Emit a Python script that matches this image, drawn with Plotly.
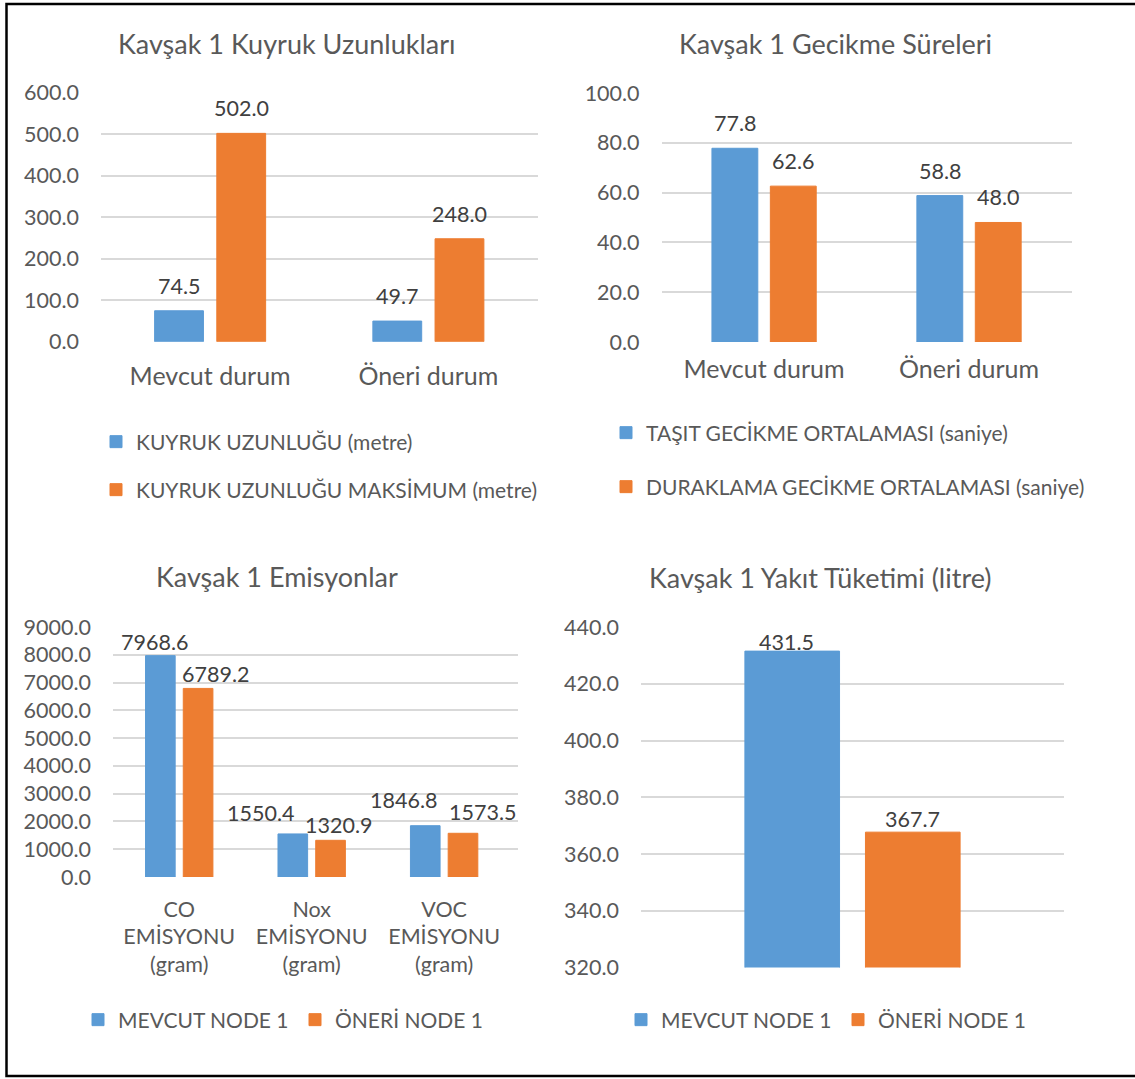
import plotly.graph_objects as go

# ---------------- data ----------------
queue_categories = ["Mevcut durum", "Öneri durum"]
queue_length = [74.5, 49.7]
queue_length_max = [502.0, 248.0]
queue_series = ["KUYRUK UZUNLUĞU (metre)", "KUYRUK UZUNLUĞU MAKSİMUM (metre)"]

delay_categories = ["Mevcut durum", "Öneri durum"]
vehicle_delay = [77.8, 58.8]
stop_delay = [62.6, 48.0]
delay_series = ["TAŞIT GECİKME ORTALAMASI (saniye)", "DURAKLAMA GECİKME ORTALAMASI (saniye)"]

emission_categories = ["CO<br>EMİSYONU<br>(gram)", "Nox<br>EMİSYONU<br>(gram)", "VOC<br>EMİSYONU<br>(gram)"]
emission_current = [7968.6, 1550.4, 1846.8]
emission_proposal = [6789.2, 1320.9, 1573.5]

fuel_categories = ["Kavşak 1"]
fuel_current = [431.5]
fuel_proposal = [367.7]

node_series = ["MEVCUT NODE 1", "ÖNERİ NODE 1"]

titles = ["Kavşak 1 Kuyruk Uzunlukları", "Kavşak 1 Gecikme Süreleri",
          "Kavşak 1 Emisyonlar", "Kavşak 1 Yakıt Tüketimi (litre)"]

# ---------------- style ----------------
W, H = 1135, 1079
BLUE = "#5B9BD5"
ORANGE = "#ED7D31"
TXT = "#595959"
VAL = "#404040"
GRID = "#D9D9D9"
FONT = "Lato, Carlito, Calibri, sans-serif"
BARGAP = 0.43
BARGROUPGAP = 0.215


def px_x(v):
    return v / W


def px_y(v):
    return 1 - v / H


fig = go.Figure()

# panel definitions: (xaxis, yaxis, x-domain px, y-domain px (top,bottom), range, dtick)
panels = [
    ("x", "y", (101, 537.5), (92.7, 341.7), [0, 600], 100),
    ("x2", "y2", (661.6, 1071.5), (93, 342), [0, 100], 20),
    ("x3", "y3", (113, 518), (627, 877), [0, 9000], 1000),
    ("x4", "y4", (641, 1064), (627, 967.5), [320, 440], 20),
]

series_sets = [
    (queue_categories, [queue_length, queue_length_max], queue_series),
    (delay_categories, [vehicle_delay, stop_delay], delay_series),
    (emission_categories, [emission_current, emission_proposal], node_series),
    (fuel_categories, [fuel_current, fuel_proposal], node_series),
]

legend_ids = [["legend", "legend2"], ["legend3", "legend4"],
              ["legend5", "legend6"], ["legend7", "legend8"]]
legend_pos = [[(116, 442), (116, 490)], [(626, 433), (626, 487)],
              [(98, 1020), (315, 1020)], [(641, 1020), (858, 1020)]]

# label offsets (pixels) per panel / series / category
label_shift = [
    [[(0, 25), (0, 25)], [(0, 25), (0, 25)]],
    [[(0, 25), (0, 25)], [(0, 25), (0, 25)]],
    [[(-6, 14), (-32, 20.5), (-22, 25.5)], [(17, 14.5), (7.5, 15), (19.5, 21.5)]],
    [[(-6, 9)], [(0, 13)]],
]
xlabel_standoff = [17, 10, 17, 10]
xlabel_size = [25, 25, 21.5, 25]

colors = [BLUE, ORANGE]
half_slot = (1 - BARGAP) / 4
slot_offset = [-half_slot, half_slot]

layout_axes = {}
for p, ((xa, ya, xd, yd, yr, dt), (cats, vals, names)) in enumerate(zip(panels, series_sets)):
    for s in range(2):
        fig.add_trace(go.Bar(
            x=cats, y=vals[s], name=names[s], marker_color=colors[s],
            marker_line_width=1, marker_line_color=colors[s],
            xaxis=xa, yaxis=ya,
            legend=legend_ids[p][s], showlegend=True,
        ))
        for i, v in enumerate(vals[s]):
            dx, dy = label_shift[p][s][i]
            fig.add_annotation(
                x=i + slot_offset[s], y=v, xref=xa, yref=ya,
                text=f"{v:.1f}", showarrow=False, xshift=dx, yshift=dy,
                yanchor="middle", xanchor="center",
                font=dict(family=FONT, size=21.5, color=VAL),
            )
    xkey = "xaxis" if xa == "x" else "xaxis" + xa[1:]
    ykey = "yaxis" if ya == "y" else "yaxis" + ya[1:]
    layout_axes[xkey] = dict(
        domain=[px_x(xd[0]), px_x(xd[1])], anchor=ya, type="category",
        showgrid=False, showline=False, ticks="", zeroline=False,
        tickfont=dict(family=FONT, size=xlabel_size[p], color=TXT),
        showticklabels=(p != 3), ticklabelstandoff=xlabel_standoff[p],
        automargin=False, fixedrange=True,
    )
    layout_axes[ykey] = dict(
        domain=[px_y(yd[1]), px_y(yd[0])], anchor=xa, range=yr, dtick=dt,
        tick0=yr[0], showgrid=True, gridcolor=GRID, gridwidth=1.6,
        showline=False, zeroline=False, ticks="", tickformat=".1f",
        tickfont=dict(family=FONT, size=21.5, color=TXT), ticklabelstandoff=21,
        automargin=False, fixedrange=True,
    )

legends = {}
for p in range(4):
    for s in range(2):
        cx, cy = legend_pos[p][s]
        legends[legend_ids[p][s]] = dict(
            x=px_x(cx - 20), y=px_y(cy), xanchor="left", yanchor="middle",
            orientation="v", bgcolor="rgba(0,0,0,0)", borderwidth=0,
            font=dict(family=FONT, size=21, color=TXT),
        )

title_pos = [(287, 43), (835, 43), (277, 576), (820, 577)]
for t, (tx, ty) in zip(titles, title_pos):
    fig.add_annotation(
        x=px_x(tx), y=px_y(ty), xref="paper", yref="paper", text=t,
        showarrow=False, xanchor="center", yanchor="middle",
        font=dict(family=FONT, size=27, color=TXT),
    )

fig.add_shape(type="rect", xref="paper", yref="paper",
              x0=px_x(6.5), x1=1.02, y0=px_y(1076), y1=px_y(4),
              line=dict(color="black", width=2.5), fillcolor="rgba(0,0,0,0)")

fig.update_layout(
    width=W, height=H, margin=dict(l=0, r=0, t=0, b=0, autoexpand=False),
    paper_bgcolor="white", plot_bgcolor="white",
    barmode="group", bargap=BARGAP, bargroupgap=BARGROUPGAP,
    font=dict(family=FONT, color=TXT),
    **layout_axes, **legends,
)

fig.write_html("out.html")
